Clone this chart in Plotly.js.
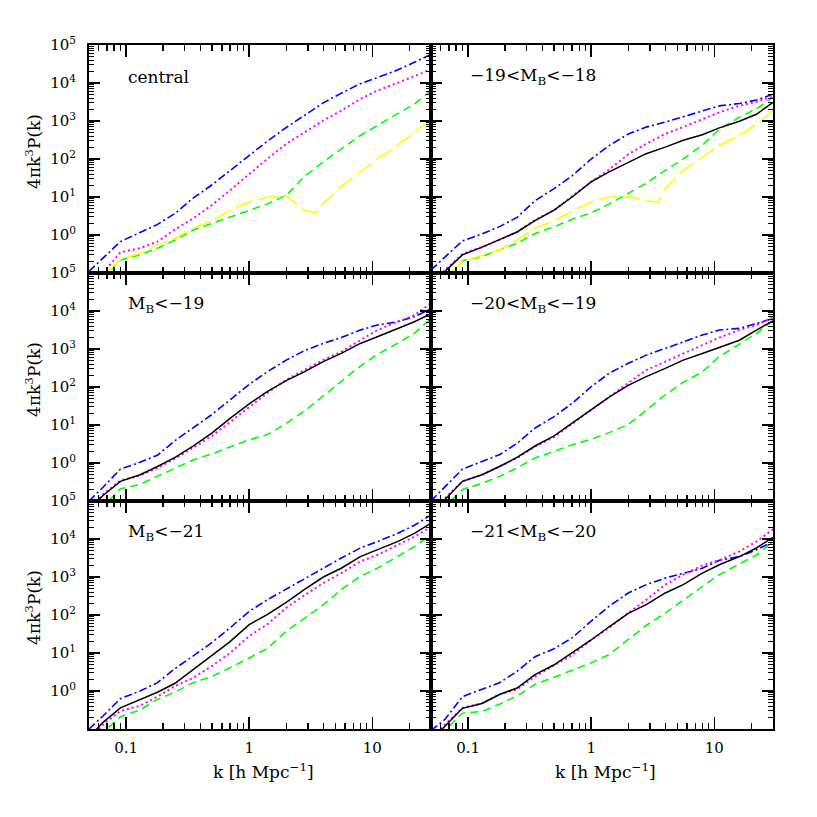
<!DOCTYPE html>
<html>
<head>
<meta charset="utf-8">
<script src="https://cdn.plot.ly/plotly-3.0.1.min.js"></script>
<style>html,body{margin:0;padding:0;background:#fff;}#chart{width:817px;height:817px;}</style>
</head>
<body>
<div id="chart"></div>
<script>
// wavenumber grid (h/Mpc)
const k = [0.05, 0.065, 0.09, 0.13, 0.18, 0.25, 0.35, 0.5, 0.7, 1.0, 1.4, 2.0, 2.8, 4.0, 5.6, 8, 11, 16, 22, 30];
const kYellow = [0.05, 0.065, 0.09, 0.13, 0.18, 0.25, 0.35, 0.5, 0.7, 1.0, 1.4, 2.0, 2.8, 3.5, 4.0, 5.6, 8, 11, 16, 22, 30];

// panel labels
const panelLabels = ["central", "\u221219&lt;M<sub>B</sub>&lt;\u221218", "M<sub>B</sub>&lt;\u221219",
                     "\u221220&lt;M<sub>B</sub>&lt;\u221219", "M<sub>B</sub>&lt;\u221221", "\u221221&lt;M<sub>B</sub>&lt;\u221220"];

// central
const centralBlue    = [0.11, 0.24, 0.67, 1.17, 1.9, 3.7, 9.3, 21, 50, 126, 290, 675, 1400, 3000, 5400, 9600, 13800, 22000, 35000, 57000];
const centralMagenta = [0.07, 0.1, 0.35, 0.45, 0.67, 1.4, 2.7, 6.2, 15, 40, 100, 250, 500, 1030, 1860, 3800, 6300, 10000, 15000, 23000];
const centralGreen   = [0.05, 0.08, 0.22, 0.30, 0.45, 0.74, 1.35, 2.0, 3.0, 4.5, 6.5, 11, 34, 84, 185, 415, 760, 1500, 2800, 6300];
const centralYellow  = [0.05, 0.08, 0.23, 0.33, 0.55, 0.81, 1.5, 2.4, 4.5, 7.4, 10, 11, 4.5, 3.8, 6.8, 19, 46, 100, 230, 500, 1100];

// -19 < M_B < -18
const m1918Blue    = [0.12, 0.27, 0.7, 1.07, 1.66, 2.9, 8, 16.6, 36, 100, 225, 455, 690, 935, 1300, 1870, 2500, 2900, 3550, 5100];
const m1918Magenta = [0.06, 0.12, 0.32, 0.48, 0.74, 1.2, 2.5, 4.5, 10.4, 25, 53, 132, 250, 460, 690, 1130, 1700, 2520, 3200, 4400];
const m1918Black   = [0.05, 0.11, 0.30, 0.48, 0.74, 1.2, 2.4, 4.5, 10, 25, 46, 83, 138, 205, 310, 435, 660, 985, 1500, 3100];
const m1918Green   = [0.04, 0.06, 0.21, 0.27, 0.41, 0.6, 1.1, 1.65, 2.6, 3.8, 6.5, 12.3, 23, 50, 100, 230, 610, 1250, 2100, 4150];
const m1918Yellow  = [0.04, 0.07, 0.2, 0.29, 0.41, 0.74, 1.5, 2.4, 4.1, 7.4, 10, 10.5, 7.9, 7.4, 16.7, 50, 112, 230, 415, 830, 1870];

// M_B < -19
const m19Blue    = [0.1, 0.23, 0.69, 1.05, 1.6, 3.9, 8.4, 19, 46, 117, 250, 510, 900, 1400, 2000, 3150, 4300, 5200, 7100, 11500];
const m19Black   = [0.06, 0.14, 0.33, 0.49, 0.81, 1.4, 2.8, 6.2, 15, 36, 76, 147, 250, 465, 770, 1400, 2100, 3450, 5200, 8500];
const m19Magenta = [0.06, 0.15, 0.35, 0.47, 0.74, 1.3, 2.5, 5.2, 12, 30, 69, 155, 280, 515, 850, 1700, 3150, 5200, 7800, 16000];
const m19Green   = [0.04, 0.07, 0.21, 0.27, 0.45, 0.74, 1.2, 1.74, 2.6, 4.1, 5.5, 11, 23, 58, 140, 355, 720, 1400, 2600, 6300];

// -20 < M_B < -19
const m2019Blue    = [0.1, 0.24, 0.69, 1.1, 1.65, 3.3, 8.3, 16.6, 37, 102, 230, 420, 690, 1040, 1560, 2330, 3150, 3500, 4700, 6300];
const m2019Magenta = [0.05, 0.12, 0.33, 0.49, 0.81, 1.35, 2.7, 4.8, 10.7, 25, 56, 132, 280, 465, 740, 1260, 2000, 3150, 4300, 6800];
const m2019Black   = [0.05, 0.11, 0.33, 0.49, 0.81, 1.4, 2.8, 5.2, 11.2, 25, 54, 110, 187, 310, 510, 760, 1100, 1700, 3150, 5500];
const m2019Green   = [0.04, 0.07, 0.2, 0.29, 0.44, 0.74, 1.35, 2.0, 3.0, 4.2, 6.3, 10.2, 24, 62, 132, 250, 630, 1350, 2560, 5500];

// M_B < -21
const m21Blue    = [0.1, 0.22, 0.63, 1.0, 1.66, 3.9, 8.3, 19, 46, 125, 250, 480, 930, 1700, 3150, 5800, 8500, 14000, 23000, 43000];
const m21Black   = [0.06, 0.15, 0.36, 0.6, 0.93, 1.6, 3.7, 8.7, 20, 56, 102, 214, 465, 1000, 1700, 3450, 5200, 8500, 14000, 26000];
const m21Magenta = [0.05, 0.13, 0.30, 0.41, 0.71, 1.35, 2.2, 4.6, 10, 28, 56, 155, 325, 690, 1260, 2560, 3800, 7000, 11500, 21000];
const m21Green   = [0.04, 0.08, 0.21, 0.32, 0.6, 0.93, 1.66, 2.4, 4.1, 7.4, 13, 37, 83, 185, 465, 1040, 1700, 3450, 6300, 13000];

// -21 < M_B < -20
const m2120Blue    = [0.09, 0.18, 0.71, 1.1, 1.65, 3.3, 8, 13, 25, 69, 170, 380, 630, 935, 1230, 1700, 2750, 3450, 5200, 8500];
const m2120Magenta = [0.05, 0.13, 0.36, 0.48, 0.81, 1.1, 2.4, 4.6, 8.8, 22, 46, 112, 250, 630, 1150, 2000, 2800, 4700, 8500, 18000];
const m2120Black   = [0.05, 0.12, 0.35, 0.47, 0.81, 1.2, 2.7, 4.9, 10, 22, 49, 110, 187, 380, 630, 1260, 2100, 3450, 5800, 11000];
const m2120Green   = [0.04, 0.09, 0.26, 0.29, 0.45, 0.74, 1.5, 2.3, 3.5, 5.5, 9.1, 22, 53, 112, 250, 560, 1150, 2240, 3800, 8500];

// tick labels
const xTickVals = [0.1, 1, 10];
const xTickText = ["0.1", "1", "10"];
const yTickVals = [1, 10, 100, 1000, 10000, 100000];
const yTickText = ["10<sup>0</sup>", "10<sup>1</sup>", "10<sup>2</sup>", "10<sup>3</sup>", "10<sup>4</sup>", "10<sup>5</sup>"];

const styles = {
  blue:    {color: "#0000ff", width: 1.6, dash: "8px,3px,2px,3px"},
  magenta: {color: "#ff00ff", width: 2.0, dash: "2px,3px"},
  green:   {color: "#00ff00", width: 1.6, dash: "8px,5px"},
  yellow:  {color: "#ffff00", width: 1.6, dash: "18px,6px"},
  black:   {color: "#000000", width: 1.5, dash: "solid"}
};

const panels = [
  [["blue", k, centralBlue], ["magenta", k, centralMagenta], ["green", k, centralGreen], ["yellow", kYellow, centralYellow]],
  [["blue", k, m1918Blue], ["magenta", k, m1918Magenta], ["green", k, m1918Green], ["yellow", kYellow, m1918Yellow], ["black", k, m1918Black]],
  [["blue", k, m19Blue], ["magenta", k, m19Magenta], ["green", k, m19Green], ["black", k, m19Black]],
  [["blue", k, m2019Blue], ["magenta", k, m2019Magenta], ["green", k, m2019Green], ["black", k, m2019Black]],
  [["blue", k, m21Blue], ["magenta", k, m21Magenta], ["green", k, m21Green], ["black", k, m21Black]],
  [["blue", k, m2120Blue], ["magenta", k, m2120Magenta], ["green", k, m2120Green], ["black", k, m2120Black]]
];

// minor tick values
const xMinor = [];
[0.01, 0.1, 1, 10].forEach(d => { for (let m = 2; m <= 9; m++) xMinor.push(m * d); });
const yMinor = [];
[0.1, 1, 10, 100, 1000, 10000].forEach(d => { for (let m = 2; m <= 9; m++) yMinor.push(m * d); });

const FONT = "DejaVu Serif";
const traces = [];
const layout = {
  width: 817, height: 817,
  margin: {l: 89, r: 44, t: 45, b: 88},
  paper_bgcolor: "#ffffff", plot_bgcolor: "#ffffff",
  showlegend: false,
  font: {family: FONT, size: 15, color: "#000"},
  annotations: []
};

panels.forEach((series, i) => {
  const n = i + 1;
  const row = Math.floor(i / 2), col = i % 2;
  const xs = n === 1 ? "x" : "x" + n, ys = n === 1 ? "y" : "y" + n;
  const xk = n === 1 ? "xaxis" : "xaxis" + n, yk = n === 1 ? "yaxis" : "yaxis" + n;
  series.forEach(([st, kk, vals]) => {
    traces.push({type: "scatter", mode: "lines", x: kk, y: vals, xaxis: xs, yaxis: ys,
                 line: Object.assign({}, styles[st]), hoverinfo: "skip"});
  });
  const common = {
    showline: true, linewidth: 2, linecolor: "#000", mirror: "allticks",
    ticks: "inside", tickwidth: 1.5, tickcolor: "#000",
    showgrid: false, zeroline: false, type: "log", tickmode: "array",
    tickfont: {family: FONT, size: 15, color: "#000"}
  };
  layout[xk] = Object.assign({}, common, {
    domain: col === 0 ? [0, 0.5] : [0.5, 1],
    anchor: ys,
    range: [Math.log10(0.05), Math.log10(30)],
    tickvals: xTickVals, ticktext: xTickText, ticklen: 12,
    showticklabels: row === 2, ticklabelstandoff: 4,
    minor: {ticks: "inside", ticklen: 6, tickwidth: 1.3, tickcolor: "#000", tickmode: "array", tickvals: xMinor, showgrid: false}
  });
  layout[yk] = Object.assign({}, common, {
    domain: [(2 - row) / 3, (3 - row) / 3],
    anchor: xs,
    range: [-1, 5],
    tickvals: yTickVals, ticktext: yTickText, ticklen: 11,
    showticklabels: col === 0, ticklabelstandoff: 8,
    minor: {ticks: "inside", ticklen: 5, tickwidth: 1.2, tickcolor: "#000", tickmode: "array", tickvals: yMinor, showgrid: false}
  });
  // panel label
  layout.annotations.push({
    text: panelLabels[i], xref: xs + " domain", yref: ys + " domain",
    x: 0.108, y: 0.86, xanchor: "left", yanchor: "middle", showarrow: false,
    font: {family: FONT, size: 17, color: "#000"}
  });
  // y axis title per row
  if (col === 0) {
    layout.annotations.push({
      text: "4\u03c0k<sup>3</sup>P(k)", xref: "paper", yref: ys + " domain",
      x: -0.082, y: 0.535, xanchor: "center", yanchor: "middle", textangle: -90, showarrow: false,
      font: {family: FONT, size: 17, color: "#000"}
    });
  }
  // x axis title per column
  if (row === 2) {
    layout.annotations.push({
      text: "k [h Mpc<sup>\u22121</sup>]", xref: xs + " domain", yref: "paper",
      x: 0.51, y: -0.062, xanchor: "center", yanchor: "middle", showarrow: false,
      font: {family: FONT, size: 17, color: "#000"}
    });
  }
});

Plotly.newPlot("chart", traces, layout, {staticPlot: true, displayModeBar: false});
</script>
</body>
</html>
